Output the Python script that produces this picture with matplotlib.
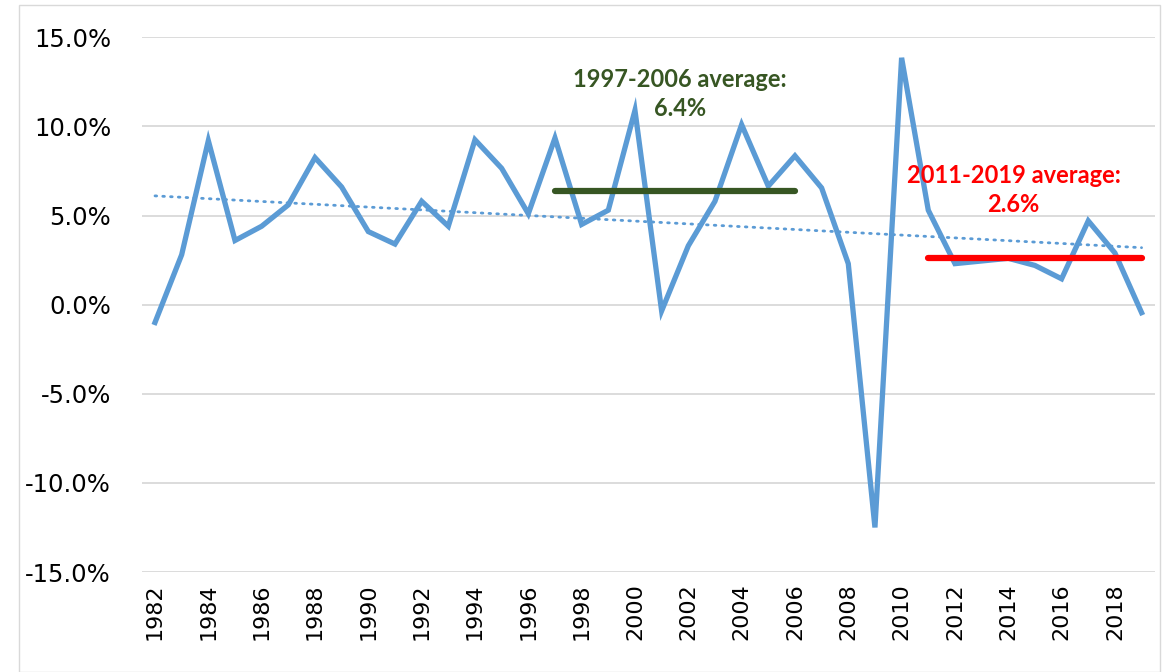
import matplotlib

matplotlib.use("Agg")
import matplotlib.pyplot as plt
import numpy as np
from matplotlib.patches import Rectangle
from matplotlib.ticker import FuncFormatter


YEARS = list(range(1982, 2020))
GROWTH = [
    -1.0, 2.8, 9.2, 3.6, 4.4, 5.6, 8.25, 6.6, 4.1, 3.4,
    5.8, 4.4, 9.25, 7.65, 5.1, 9.35, 4.5, 5.3, 10.9, -0.35,
    3.3, 5.8, 10.1, 6.65, 8.35, 6.55, 2.3, -12.5, 13.85, 5.3,
    2.3, 2.45, 2.6, 2.2, 1.45, 4.7, 2.9, -0.45,
]
PERIOD_1 = (1997, 2006)
PERIOD_2 = (2011, 2019)
LABEL_1 = "1997-2006 average:\n6.4%"
LABEL_2 = "2011-2019 average:\n2.6%"

BLUE = "#5B9BD5"
GREEN = "#375623"
RED = "#FF0000"


def period_mean(start, end):
    vals = [g for y, g in zip(YEARS, GROWTH) if start <= y <= end]
    return float(np.mean(vals))


def main() -> None:
    fig = plt.figure(figsize=(11.66, 6.72), dpi=100)
    fig.patches.append(Rectangle((0.016, 0.0), 0.979, 0.993, transform=fig.transFigure,
                                 fill=False, edgecolor="#D9D9D9", linewidth=1.0))
    ax = fig.add_axes([0.1215, 0.1488, 0.869, 0.7957])

    x = np.array(YEARS)
    y = np.array(GROWTH)
    ax.plot(x, y, color=BLUE, linewidth=3.8, solid_joinstyle="miter", zorder=3)

    # linear trend, like the Excel trendline
    slope, intercept = np.polyfit(x, y, 1)
    ax.plot(x, slope * x + intercept, color=BLUE, linewidth=2.0,
            linestyle=(0, (0.6, 2.2)), dash_capstyle="round", zorder=2)

    m1 = period_mean(*PERIOD_1)
    m2 = period_mean(*PERIOD_2)
    ax.plot(PERIOD_1, [m1, m1], color=GREEN, linewidth=4.5, solid_capstyle="round", zorder=4)
    ax.plot(PERIOD_2, [m2, m2], color=RED, linewidth=4.5, solid_capstyle="round", zorder=4)

    ax.text(2001.7, 11.8, LABEL_1, color=GREEN, fontsize=17, fontweight="bold",
            family="Lato", ha="center", va="center", linespacing=1.3)
    ax.text(2014.2, 6.45, LABEL_2, color=RED, fontsize=17, fontweight="bold",
            family="Lato", ha="center", va="center", linespacing=1.3)

    ax.set_xlim(1981.5, 2019.5)
    ax.set_ylim(-15, 15)
    ax.set_yticks(np.arange(-15, 16, 5))
    ax.yaxis.set_major_formatter(FuncFormatter(lambda v, _: f"{v:.1f}%"))
    ax.set_xticks(YEARS[::2])
    ax.set_xticklabels([str(yr) for yr in YEARS[::2]], rotation=90)
    ax.tick_params(axis="both", length=0)
    ax.tick_params(axis="x", labelsize=16, pad=8)
    ax.tick_params(axis="y", labelsize=17.5, pad=22)
    ax.grid(axis="y", color="#D9D9D9", linewidth=1.3)
    ax.set_axisbelow(True)
    for spine in ax.spines.values():
        spine.set_visible(False)

    fig.savefig("out.png", dpi=100)
    plt.close(fig)


if __name__ == "__main__":
    main()
